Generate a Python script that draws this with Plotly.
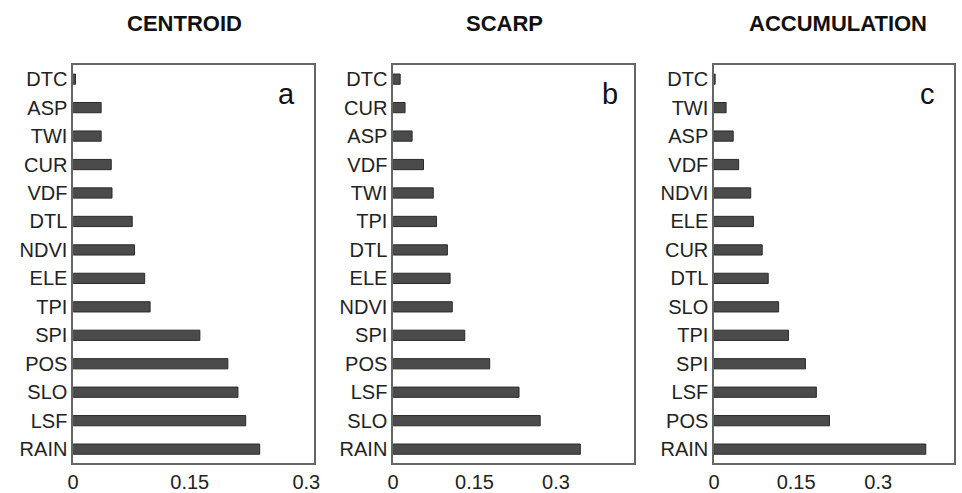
import plotly.graph_objects as go

# Data (top-to-bottom order as displayed)
centroid_vars = ["DTC", "ASP", "TWI", "CUR", "VDF", "DTL", "NDVI", "ELE", "TPI", "SPI", "POS", "SLO", "LSF", "RAIN"]
centroid_vals = [0.003, 0.036, 0.036, 0.049, 0.050, 0.076, 0.079, 0.092, 0.099, 0.163, 0.199, 0.212, 0.222, 0.240]

scarp_vars = ["DTC", "CUR", "ASP", "VDF", "TWI", "TPI", "DTL", "ELE", "NDVI", "SPI", "POS", "LSF", "SLO", "RAIN"]
scarp_vals = [0.013, 0.022, 0.035, 0.056, 0.074, 0.080, 0.100, 0.105, 0.109, 0.132, 0.178, 0.232, 0.271, 0.345]

accum_vars = ["DTC", "TWI", "ASP", "VDF", "NDVI", "ELE", "CUR", "DTL", "SLO", "TPI", "SPI", "LSF", "POS", "RAIN"]
accum_vals = [0.002, 0.022, 0.035, 0.045, 0.067, 0.072, 0.088, 0.099, 0.118, 0.136, 0.167, 0.187, 0.211, 0.387]

titles = ["CENTROID", "SCARP", "ACCUMULATION"]
letters = ["a", "b", "c"]
tick_vals = [0, 0.15, 0.3]
tick_text = ["0", "0.15", "0.3"]

W, H = 962, 493
panels = [
    dict(vars=centroid_vars, vals=centroid_vals, x0=68, x1=312, xmax=0.31, tx=181, lx=284),
    dict(vars=scarp_vars, vals=scarp_vals, x0=392, x1=636, xmax=0.444, tx=505, lx=612),
    dict(vars=accum_vars, vals=accum_vals, x0=717, x1=960, xmax=0.4386, tx=843, lx=933),
]
y_top, y_bot = 66, 471

fig = go.Figure()
font_family = "Liberation Sans, Arial, sans-serif"

for i, p in enumerate(panels):
    n = "" if i == 0 else str(i + 1)
    fig.add_trace(go.Bar(
        x=p["vals"], y=p["vars"], orientation="h",
        xaxis="x" + n, yaxis="y" + n,
        marker=dict(color="#4b4b4b", line=dict(color="#2a2a2a", width=1)),
        width=0.36, showlegend=False,
    ))
    fig.layout["xaxis" + n] = dict(
        domain=[p["x0"] / W, p["x1"] / W], anchor="y" + n,
        range=[0, p["xmax"]], tickmode="array", tickvals=tick_vals, ticktext=tick_text,
        showgrid=False, zeroline=False, showline=True, mirror=True,
        linecolor="#666666", linewidth=1.5, ticks="",
        tickfont=dict(family=font_family, size=20, color="#222222"),
    )
    fig.layout["yaxis" + n] = dict(
        domain=[1 - y_bot / H, 1 - y_top / H], anchor="x" + n,
        autorange="reversed", type="category",
        showgrid=False, zeroline=False, showline=True, mirror=True,
        linecolor="#666666", linewidth=1.5, ticks="",
        tickfont=dict(family=font_family, size=20, color="#222222"),
    )
    fig.add_annotation(
        text="<b>" + titles[i] + "</b>", x=p["tx"] / W, y=1 - 23.5 / H,
        xref="paper", yref="paper", showarrow=False, xanchor="center", yanchor="middle",
        font=dict(family=font_family, size=22, color="#111111"),
    )
    fig.add_annotation(
        text=letters[i], x=p["lx"] / W, y=1 - 96 / H,
        xref="paper", yref="paper", showarrow=False, xanchor="center", yanchor="middle",
        font=dict(family=font_family, size=29, color="#111111"),
    )

fig.update_layout(
    width=W, height=H, margin=dict(l=0, r=0, t=0, b=0),
    paper_bgcolor="white", plot_bgcolor="white",
    bargap=0.64,
)

fig.write_html("out.html")
